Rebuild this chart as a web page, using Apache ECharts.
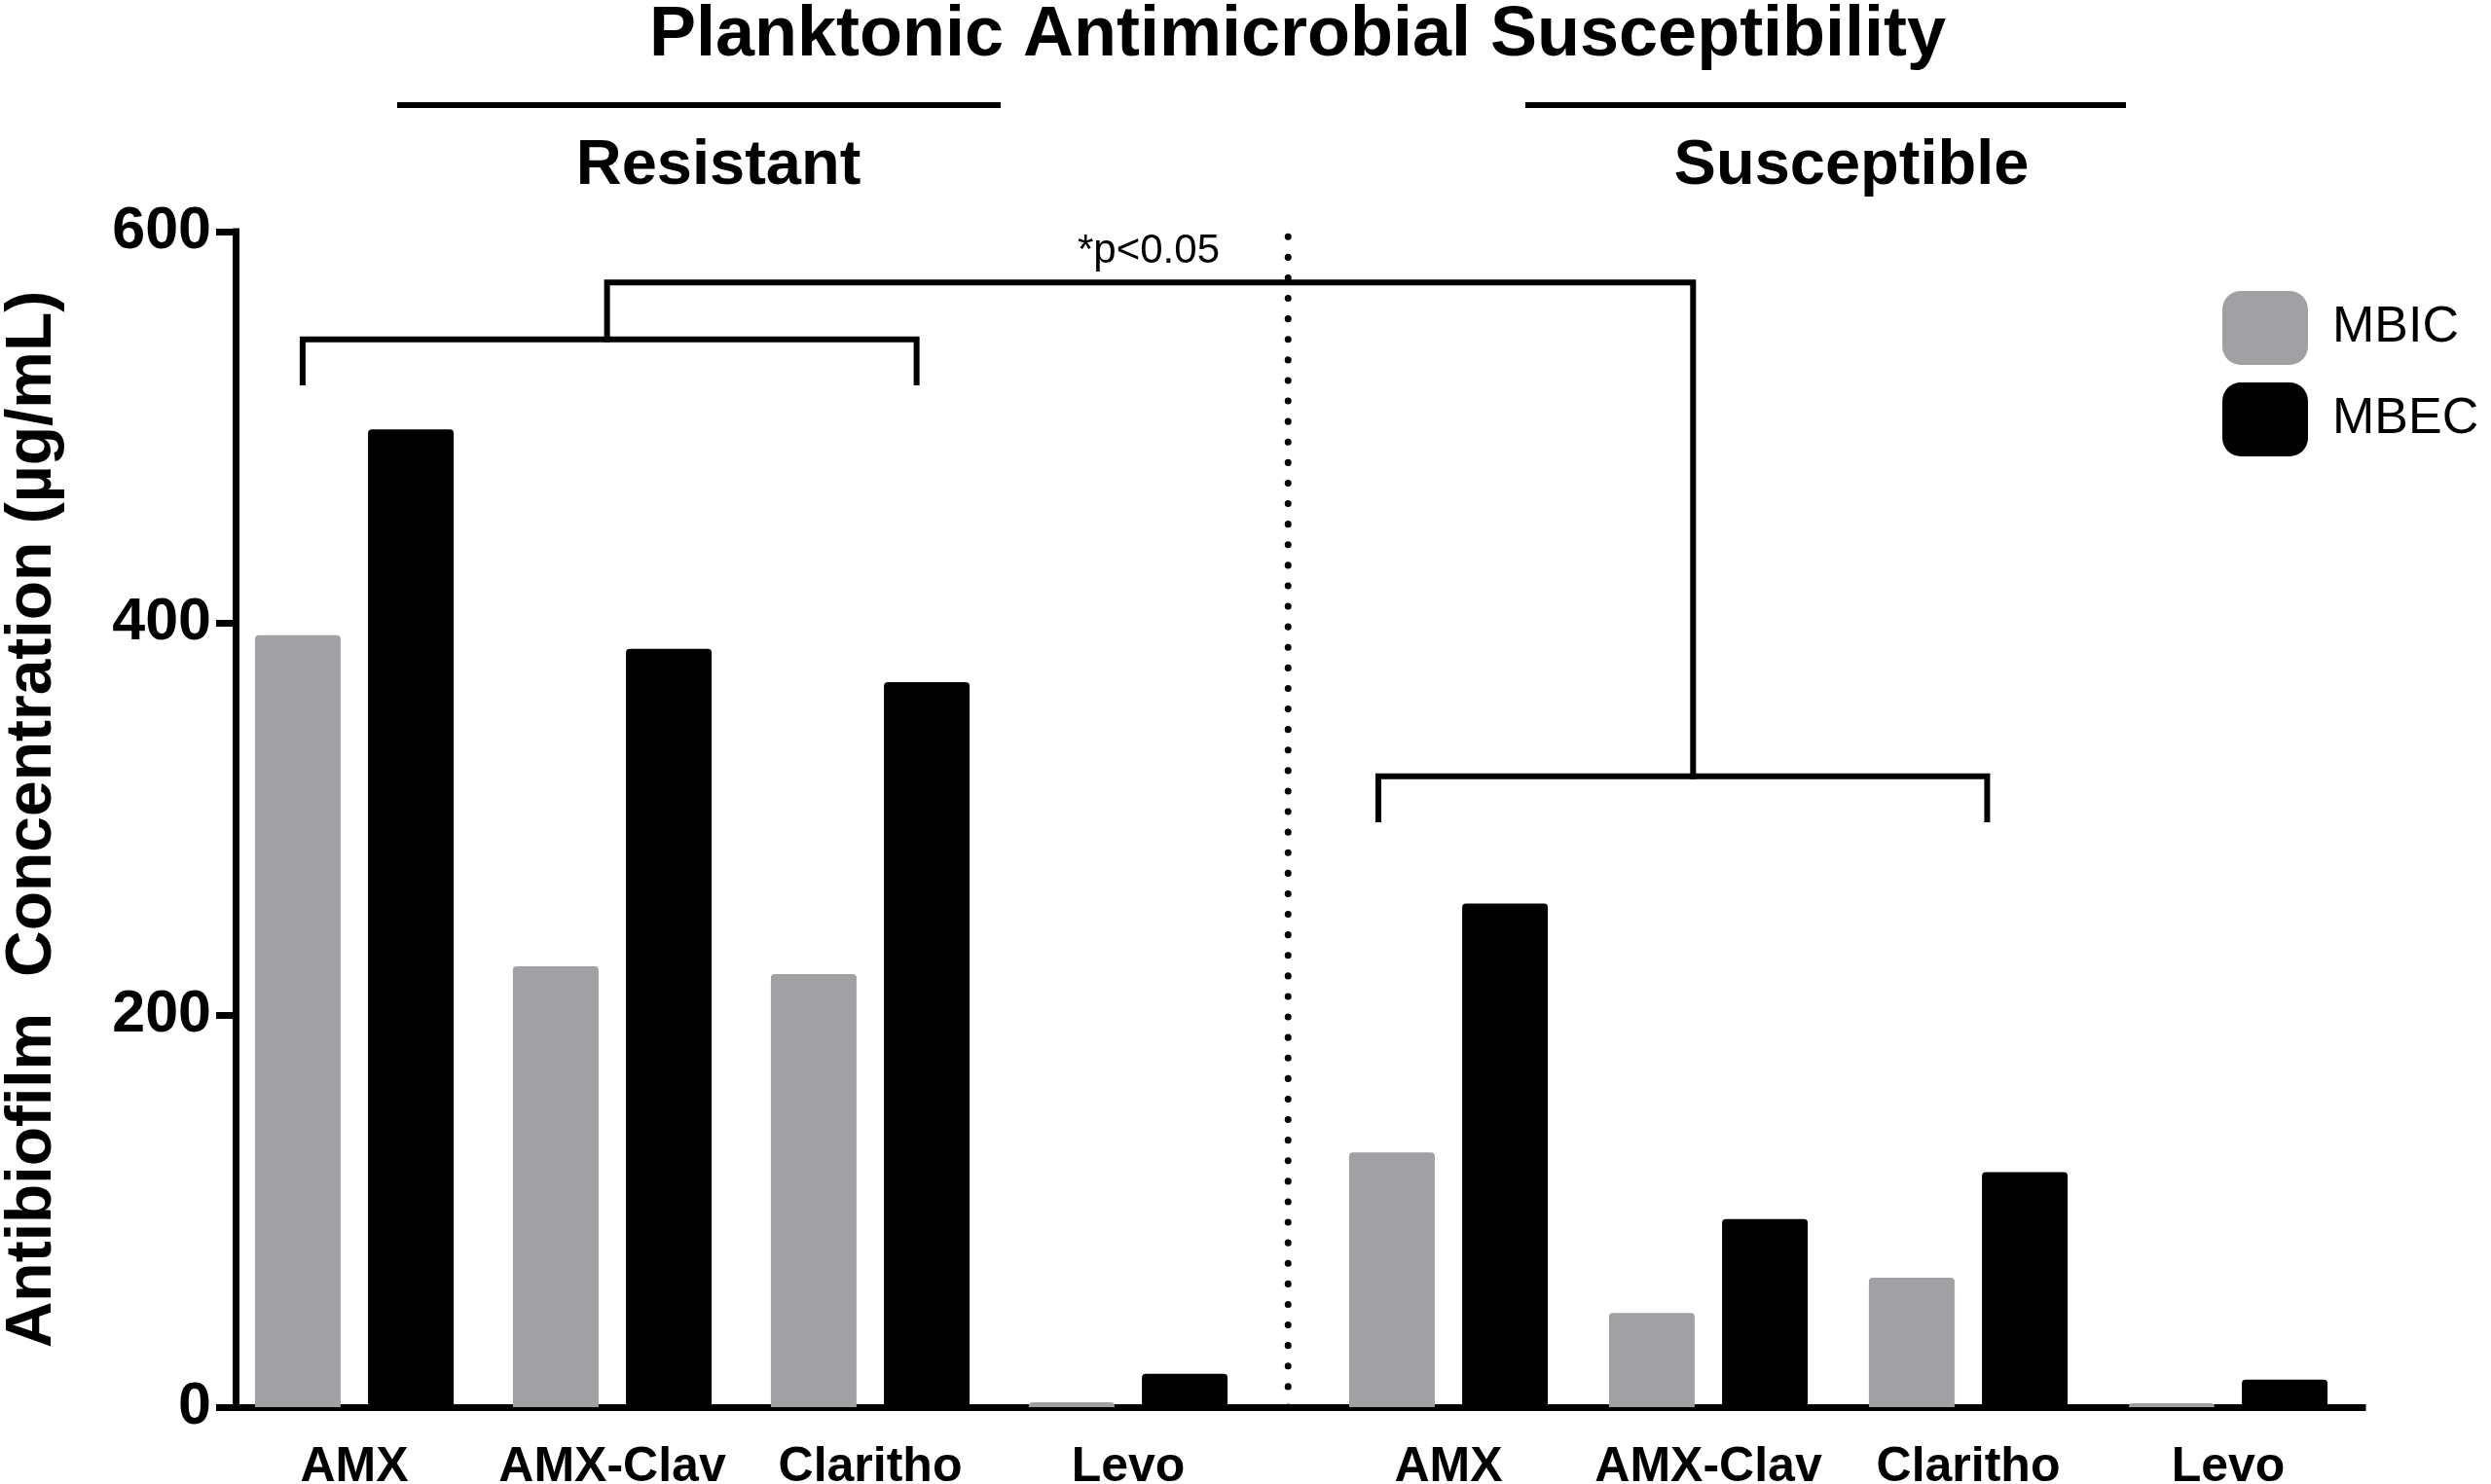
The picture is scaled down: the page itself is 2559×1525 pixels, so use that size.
<!DOCTYPE html>
<html><head><meta charset="utf-8">
<script src="https://cdn.jsdelivr.net/npm/echarts@6/dist/echarts.min.js"></script>
<style>html,body{margin:0;padding:0;background:#fff}#c{width:2559px;height:1525px}</style>
</head><body><div id="c"></div>
<script>
// ---- data ----
const categories = ['AMX', 'AMX-Clav', 'Claritho', 'Levo'];
const groupLabels = ['Resistant', 'Susceptible'];
const mbicResistant = [394, 225, 221, 2.5];
const mbecResistant = [499, 387, 370, 17];
const mbicSusceptible = [130, 48, 66, 2];
const mbecSusceptible = [257, 96, 120, 14];
const yTicks = [0, 200, 400, 600];
// annotation positions in group-slot units (left groups 0..3, right groups 4.24..7.24)
const bracketLeft = [[-0.2, 523], [-0.2, 545], [2.18, 545], [2.18, 523]];
const bracketRight = [[3.97, 300], [3.97, 322], [6.33, 322], [6.33, 300]];
const bracketTop = [[0.98, 545], [0.98, 574], [5.19, 574], [5.19, 322]];
const divider = [[3.62, 0], [3.62, 600]];
const pText = '*p<0.05';

const FONT = "'Liberation Sans', Arial, Helvetica, sans-serif";
const GRAY = '#a1a1a5';
const TOP = 238, BOTTOM = 79;

const chart = echarts.init(document.getElementById('c'));
const catAxis = (gi) => ({
  type: 'category', gridIndex: gi, data: categories,
  axisLine: { show: false }, axisTick: { show: false },
  axisLabel: { interval: 0, fontFamily: FONT, fontWeight: 'bold', fontSize: 50, color: '#000', margin: 37 }
});
const hidY = (gi) => ({ type: 'value', gridIndex: gi, min: 0, max: 600, interval: 200, show: false });
const barStyle = (c) => ({ color: c, borderRadius: [4, 4, 0, 0] });
const annLine = (name, data, extra) => Object.assign({
  name, type: 'line', xAxisIndex: 2, yAxisIndex: 2, data, symbol: 'none', silent: true, z: 5,
  lineStyle: { color: '#000', width: 6, cap: 'square', join: 'miter' }
}, extra || {});
const gridBase = { top: TOP, bottom: BOTTOM, containLabel: false, outerBoundsMode: 'none' };

chart.setOption({
  animation: false,
  backgroundColor: '#fff',
  title: {
    text: 'Planktonic Antimicrobial Susceptibility',
    left: 1328, top: -4, textAlign: 'center',
    textStyle: { fontFamily: FONT, fontWeight: 'bold', fontSize: 72, color: '#000' }
  },
  legend: {
    data: ['MBIC', 'MBEC'], orient: 'vertical', left: 2278, top: 294,
    itemWidth: 88, itemHeight: 76, itemGap: 18, icon: 'roundRect',
    textStyle: { fontFamily: FONT, fontSize: 52, color: '#000', padding: [0, 0, 0, 20] }
  },
  grid: [
    Object.assign({ left: 231.5, width: 1060 }, gridBase),
    Object.assign({ left: 1354.5, width: 1068 }, gridBase),
    Object.assign({ left: 242, right: 132 }, gridBase)
  ],
  xAxis: [
    catAxis(0), catAxis(1),
    { type: 'value', gridIndex: 2, min: -0.46, max: 7.785,
      axisLine: { show: true, onZero: false, lineStyle: { color: '#000', width: 7, cap: 'square' } },
      axisTick: { show: false }, axisLabel: { show: false }, splitLine: { show: false } }
  ],
  yAxis: [
    hidY(0), hidY(1),
    { type: 'value', gridIndex: 2, min: yTicks[0], max: yTicks[yTicks.length - 1], interval: 200,
      name: 'Antibiofilm  Concentration (\u00b5g/mL)', nameLocation: 'middle', nameRotate: 90, nameGap: 175,
      nameTextStyle: { fontFamily: FONT, fontWeight: 'bold', fontSize: 66, color: '#000' },
      axisLine: { show: true, onZero: false, lineStyle: { color: '#000', width: 7, cap: 'square' } },
      axisTick: { show: true, inside: false, length: 20, lineStyle: { color: '#000', width: 7 } },
      axisLabel: { fontFamily: FONT, fontWeight: 'bold', fontSize: 61, color: '#000', margin: 25 },
      splitLine: { show: false } }
  ],
  series: [
    { name: 'MBIC', type: 'bar', xAxisIndex: 0, yAxisIndex: 0, data: mbicResistant,
      barWidth: 88, barGap: '32%', itemStyle: barStyle(GRAY) },
    { name: 'MBEC', type: 'bar', xAxisIndex: 0, yAxisIndex: 0, data: mbecResistant,
      barWidth: 88, barGap: '32%', itemStyle: barStyle('#000') },
    { name: 'MBIC', type: 'bar', xAxisIndex: 1, yAxisIndex: 1, data: mbicSusceptible,
      barWidth: 88, barGap: '32%', itemStyle: barStyle(GRAY) },
    { name: 'MBEC', type: 'bar', xAxisIndex: 1, yAxisIndex: 1, data: mbecSusceptible,
      barWidth: 88, barGap: '32%', itemStyle: barStyle('#000') },
    annLine('bracketLeft', bracketLeft),
    annLine('bracketRight', bracketRight),
    annLine('bracketTop', bracketTop),
    annLine('divider', divider, { lineStyle: { color: '#000', width: 7, type: [0.1, 21], cap: 'round' } })
  ],
  graphic: [
    { type: 'text', x: 738, y: 171, style: { text: groupLabels[0], font: "bold 65px " + FONT, fill: '#000', textAlign: 'center', textVerticalAlign: 'middle' } },
    { type: 'text', x: 1902, y: 171, style: { text: groupLabels[1], font: "bold 65px " + FONT, fill: '#000', textAlign: 'center', textVerticalAlign: 'middle' } },
    { type: 'line', shape: { x1: 408, y1: 108, x2: 1028, y2: 108 }, style: { stroke: '#000', lineWidth: 6 } },
    { type: 'line', shape: { x1: 1567, y1: 108, x2: 2184, y2: 108 }, style: { stroke: '#000', lineWidth: 6 } },
    { type: 'text', x: 1180, y: 258, style: { text: pText, font: "42px " + FONT, fill: '#000', textAlign: 'center', textVerticalAlign: 'middle' } }
  ]
});
</script></body></html>
